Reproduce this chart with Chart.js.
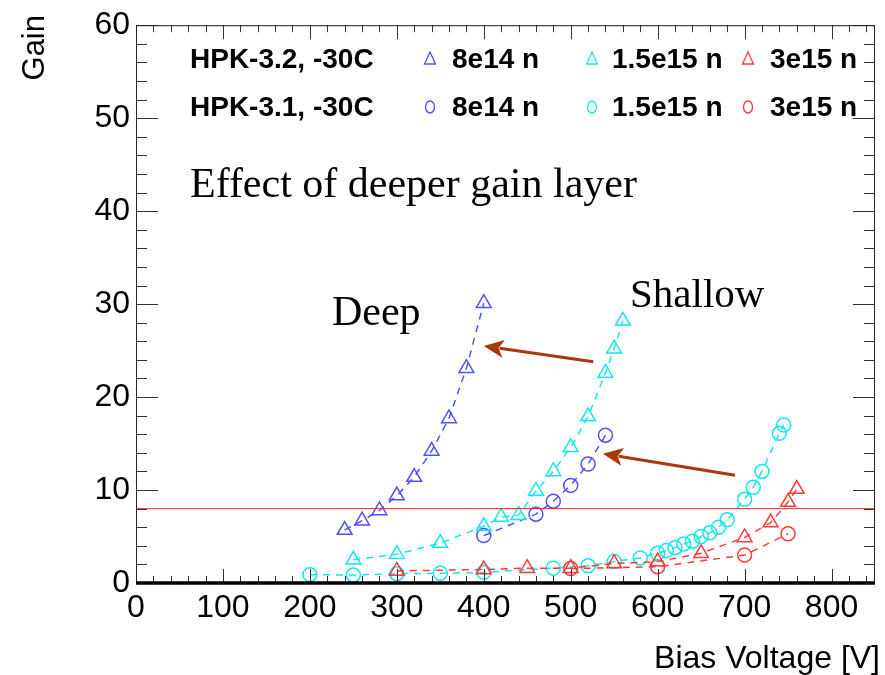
<!DOCTYPE html>
<html>
<head>
<meta charset="utf-8">
<title>Gain vs Bias Voltage</title>
<script src="https://cdn.jsdelivr.net/npm/chart.js@4.4.1/dist/chart.umd.min.js"></script>
<style>
  html, body { margin: 0; padding: 0; background: #fff; }
</style>
</head>
<body>
<canvas id="gain-chart" width="885" height="675"></canvas>
<script>
// HPK-3.2, -30C (deep gain layer) - triangles
var deep8e14V = [240, 260, 280, 300, 320, 340, 360, 380, 400];
var deep8e14G = [5.7, 6.7, 7.8, 9.4, 11.4, 14.2, 17.7, 23.1, 30.1];
var deep15e15V = [250, 300, 350, 400, 420, 440, 460, 480, 500, 520, 540, 550, 560];
var deep15e15G = [2.5, 3.1, 4.3, 6.1, 7.1, 7.3, 9.9, 12.0, 14.6, 17.9, 22.6, 25.2, 28.2];
var deep3e15V = [300, 400, 450, 500, 550, 600, 650, 700, 730, 750, 760];
var deep3e15G = [1.3, 1.45, 1.6, 1.6, 2.1, 2.3, 3.2, 4.9, 6.5, 8.7, 10.1];

// HPK-3.1, -30C (shallow gain layer) - circles
var shallow8e14V = [400, 460, 480, 500, 520, 540];
var shallow8e14G = [5.1, 7.4, 8.8, 10.5, 12.8, 15.9];
var shallow15e15V = [200, 250, 300, 350, 400, 480, 520, 550, 580, 600, 610, 620, 630, 640, 650, 660, 670, 680, 700, 710, 720, 740, 745];
var shallow15e15G = [0.9, 0.85, 1.0, 1.05, 1.15, 1.6, 1.85, 2.3, 2.7, 3.2, 3.5, 3.8, 4.2, 4.5, 5.0, 5.4, 6.0, 6.8, 9.0, 10.3, 12.0, 16.1, 17.0];
var shallow3e15V = [500, 600, 700, 750];
var shallow3e15G = [1.55, 1.75, 3.0, 5.3];

// gain = 8 reference line
var thresholdV = [0, 850];
var thresholdG = [8, 8];

var xTicks = [0, 100, 200, 300, 400, 500, 600, 700, 800];
var yTicks = [0, 10, 20, 30, 40, 50, 60];

var sampleNames = ['HPK-3.2, -30C', 'HPK-3.1, -30C'];
var fluenceNames = ['8e14 n', '1.5e15 n', '3e15 n'];

var BLUE = '#5050ff';
var CYAN = '#14e6ec';
var RED = '#ff3a3a';
var ARROW = '#a8380e';

function toPoints(xs, ys) {
    return xs.map(function (x, i) { return { x: x, y: ys[i] }; });
}

function series(xs, ys, color, style, radius) {
    return {
        data: toPoints(xs, ys),
        showLine: true,
        borderColor: color,
        borderWidth: 1.5,
        borderDash: [7, 6],
        pointStyle: style,
        pointRadius: radius,
        pointBorderColor: color,
        pointBorderWidth: 1.5,
        pointBackgroundColor: 'rgba(0,0,0,0)'
    };
}

function line(ctx, x1, y1, x2, y2) {
    ctx.beginPath();
    ctx.moveTo(x1, y1);
    ctx.lineTo(x2, y2);
    ctx.stroke();
}

function arrow(ctx, x1, y1, x2, y2) {
    var ang = Math.atan2(y2 - y1, x2 - x1);
    var hl = 20, hw = 9;
    var bx = x2 - hl * Math.cos(ang), by = y2 - hl * Math.sin(ang);
    ctx.strokeStyle = ARROW;
    ctx.fillStyle = ARROW;
    ctx.lineWidth = 3;
    line(ctx, x1, y1, bx + 4 * Math.cos(ang), by + 4 * Math.sin(ang));
    ctx.beginPath();
    ctx.moveTo(x2, y2);
    ctx.lineTo(bx - hw * Math.sin(ang), by + hw * Math.cos(ang));
    ctx.lineTo(bx + 5 * Math.cos(ang), by + 5 * Math.sin(ang));
    ctx.lineTo(bx + hw * Math.sin(ang), by - hw * Math.cos(ang));
    ctx.closePath();
    ctx.fill();
}

function smallTriangle(ctx, x, y, color) {
    ctx.strokeStyle = color;
    ctx.lineWidth = 1.3;
    ctx.beginPath();
    ctx.moveTo(x, y - 7);
    ctx.lineTo(x + 5.5, y + 5);
    ctx.lineTo(x - 5.5, y + 5);
    ctx.closePath();
    ctx.stroke();
}

function smallCircle(ctx, x, y, color) {
    ctx.strokeStyle = color;
    ctx.lineWidth = 1.3;
    ctx.beginPath();
    ctx.ellipse(x, y, 4.5, 6, 0, 0, Math.PI * 2);
    ctx.stroke();
}

// frame, inner ticks, legend, notes and axis titles
var decorations = {
    id: 'decorations',
    afterDraw: function (chart) {
        var ctx = chart.ctx, a = chart.chartArea;
        var xs = chart.scales.x, ys = chart.scales.y;
        ctx.save();

        // inner ticks on all four sides
        ctx.strokeStyle = '#333';
        ctx.lineWidth = 1;
        for (var v = 0; v <= 840; v += 20) {
            var px = Math.round(xs.getPixelForValue(v)) + 0.5;
            var tl = v % 100 === 0 ? 14 : 7;
            line(ctx, px, a.bottom, px, a.bottom - tl);
            line(ctx, px, a.top, px, a.top + tl);
        }
        for (var g = 0; g <= 60; g += 2) {
            var py = Math.round(ys.getPixelForValue(g)) + 0.5;
            var gl = g % 10 === 0 ? 22 : 11;
            line(ctx, a.left, py, a.left + gl, py);
            line(ctx, a.right, py, a.right - gl, py);
        }

        // frame
        ctx.strokeStyle = '#222';
        ctx.strokeRect(a.left + 0.5, a.top + 0.5, a.right - a.left - 1, a.bottom - a.top);
        ctx.strokeStyle = '#000';
        ctx.lineWidth = 3.5;
        line(ctx, a.left, a.bottom, a.right, a.bottom);

        // legend
        var colors = [BLUE, CYAN, RED];
        var markX = [430, 592, 748];
        var textX = [452, 612, 770];
        var rowY = [60, 108];
        ctx.font = 'bold 28px "Liberation Sans", Arial, sans-serif';
        ctx.fillStyle = '#000';
        ctx.textBaseline = 'middle';
        ctx.textAlign = 'left';
        for (var r = 0; r < 2; r++) {
            ctx.fillText(sampleNames[r], 190, rowY[r]);
            for (var c = 0; c < 3; c++) {
                if (r === 0) smallTriangle(ctx, markX[c], rowY[r] - 1, colors[c]);
                else smallCircle(ctx, markX[c], rowY[r] - 1, colors[c]);
                ctx.fillStyle = '#000';
                ctx.fillText(fluenceNames[c], textX[c], rowY[r]);
            }
        }

        // notes
        ctx.textBaseline = 'alphabetic';
        ctx.font = '42px "Liberation Serif", "Times New Roman", serif';
        ctx.fillText('Effect of deeper gain layer', 190, 197);
        ctx.fillText('Deep', 332, 325);
        ctx.font = '41px "Liberation Serif", "Times New Roman", serif';
        ctx.fillText('Shallow', 630, 307);

        arrow(ctx, xs.getPixelForValue(526), ys.getPixelForValue(23.8),
                   xs.getPixelForValue(400), ys.getPixelForValue(25.5));
        arrow(ctx, xs.getPixelForValue(689), ys.getPixelForValue(11.6),
                   xs.getPixelForValue(537), ys.getPixelForValue(13.9));

        // axis titles
        ctx.fillStyle = '#000';
        ctx.font = '32px "Liberation Sans", Arial, sans-serif';
        ctx.textAlign = 'right';
        ctx.fillText('Bias Voltage [V]', 880, 668);
        ctx.font = '31px "Liberation Sans", Arial, sans-serif';
        ctx.translate(44, 15);
        ctx.rotate(-Math.PI / 2);
        ctx.fillText('Gain', 0, 0);

        ctx.restore();
    }
};

var chartData = {
    datasets: [
        {
            data: toPoints(thresholdV, thresholdG),
            showLine: true,
            borderColor: '#ff2020',
            borderWidth: 1,
            pointRadius: 0
        },
        series(deep8e14V, deep8e14G, BLUE, 'triangle', 8.5),
        series(deep15e15V, deep15e15G, CYAN, 'triangle', 8.5),
        series(deep3e15V, deep3e15G, RED, 'triangle', 8.5),
        series(shallow8e14V, shallow8e14G, BLUE, 'circle', 7),
        series(shallow15e15V, shallow15e15G, CYAN, 'circle', 7),
        series(shallow3e15V, shallow3e15G, RED, 'circle', 7)
    ]
};

var tickFont = { family: '"Liberation Sans", Arial, sans-serif', size: 32 };

var chartOptions = {
    responsive: false,
    animation: false,
    layout: { padding: { top: 25, right: 5, left: 0, bottom: 0 } },
    plugins: {
        legend: { display: false },
        tooltip: { enabled: false }
    },
    scales: {
        x: {
            type: 'linear',
            min: 0,
            max: 850,
            grid: { display: false, drawTicks: false },
            border: { display: false },
            afterBuildTicks: function (scale) {
                scale.ticks = xTicks.map(function (v) { return { value: v }; });
            },
            afterFit: function (scale) { scale.height = 92; },
            ticks: { font: tickFont, color: '#000', padding: 6, maxRotation: 0, autoSkip: false }
        },
        y: {
            type: 'linear',
            min: 0,
            max: 60,
            grid: { display: false, drawTicks: false },
            border: { display: false },
            afterBuildTicks: function (scale) {
                scale.ticks = yTicks.map(function (v) { return { value: v }; });
            },
            afterFit: function (scale) { scale.width = 136; },
            ticks: { font: tickFont, color: '#000', padding: 6, autoSkip: false }
        }
    }
};

var ctx = document.getElementById('gain-chart');

var config = {
    type: 'scatter',
    data: chartData,
    options: chartOptions,
    plugins: [decorations]
};

var gainChart = new Chart(ctx, config);
</script>
</body>
</html>
